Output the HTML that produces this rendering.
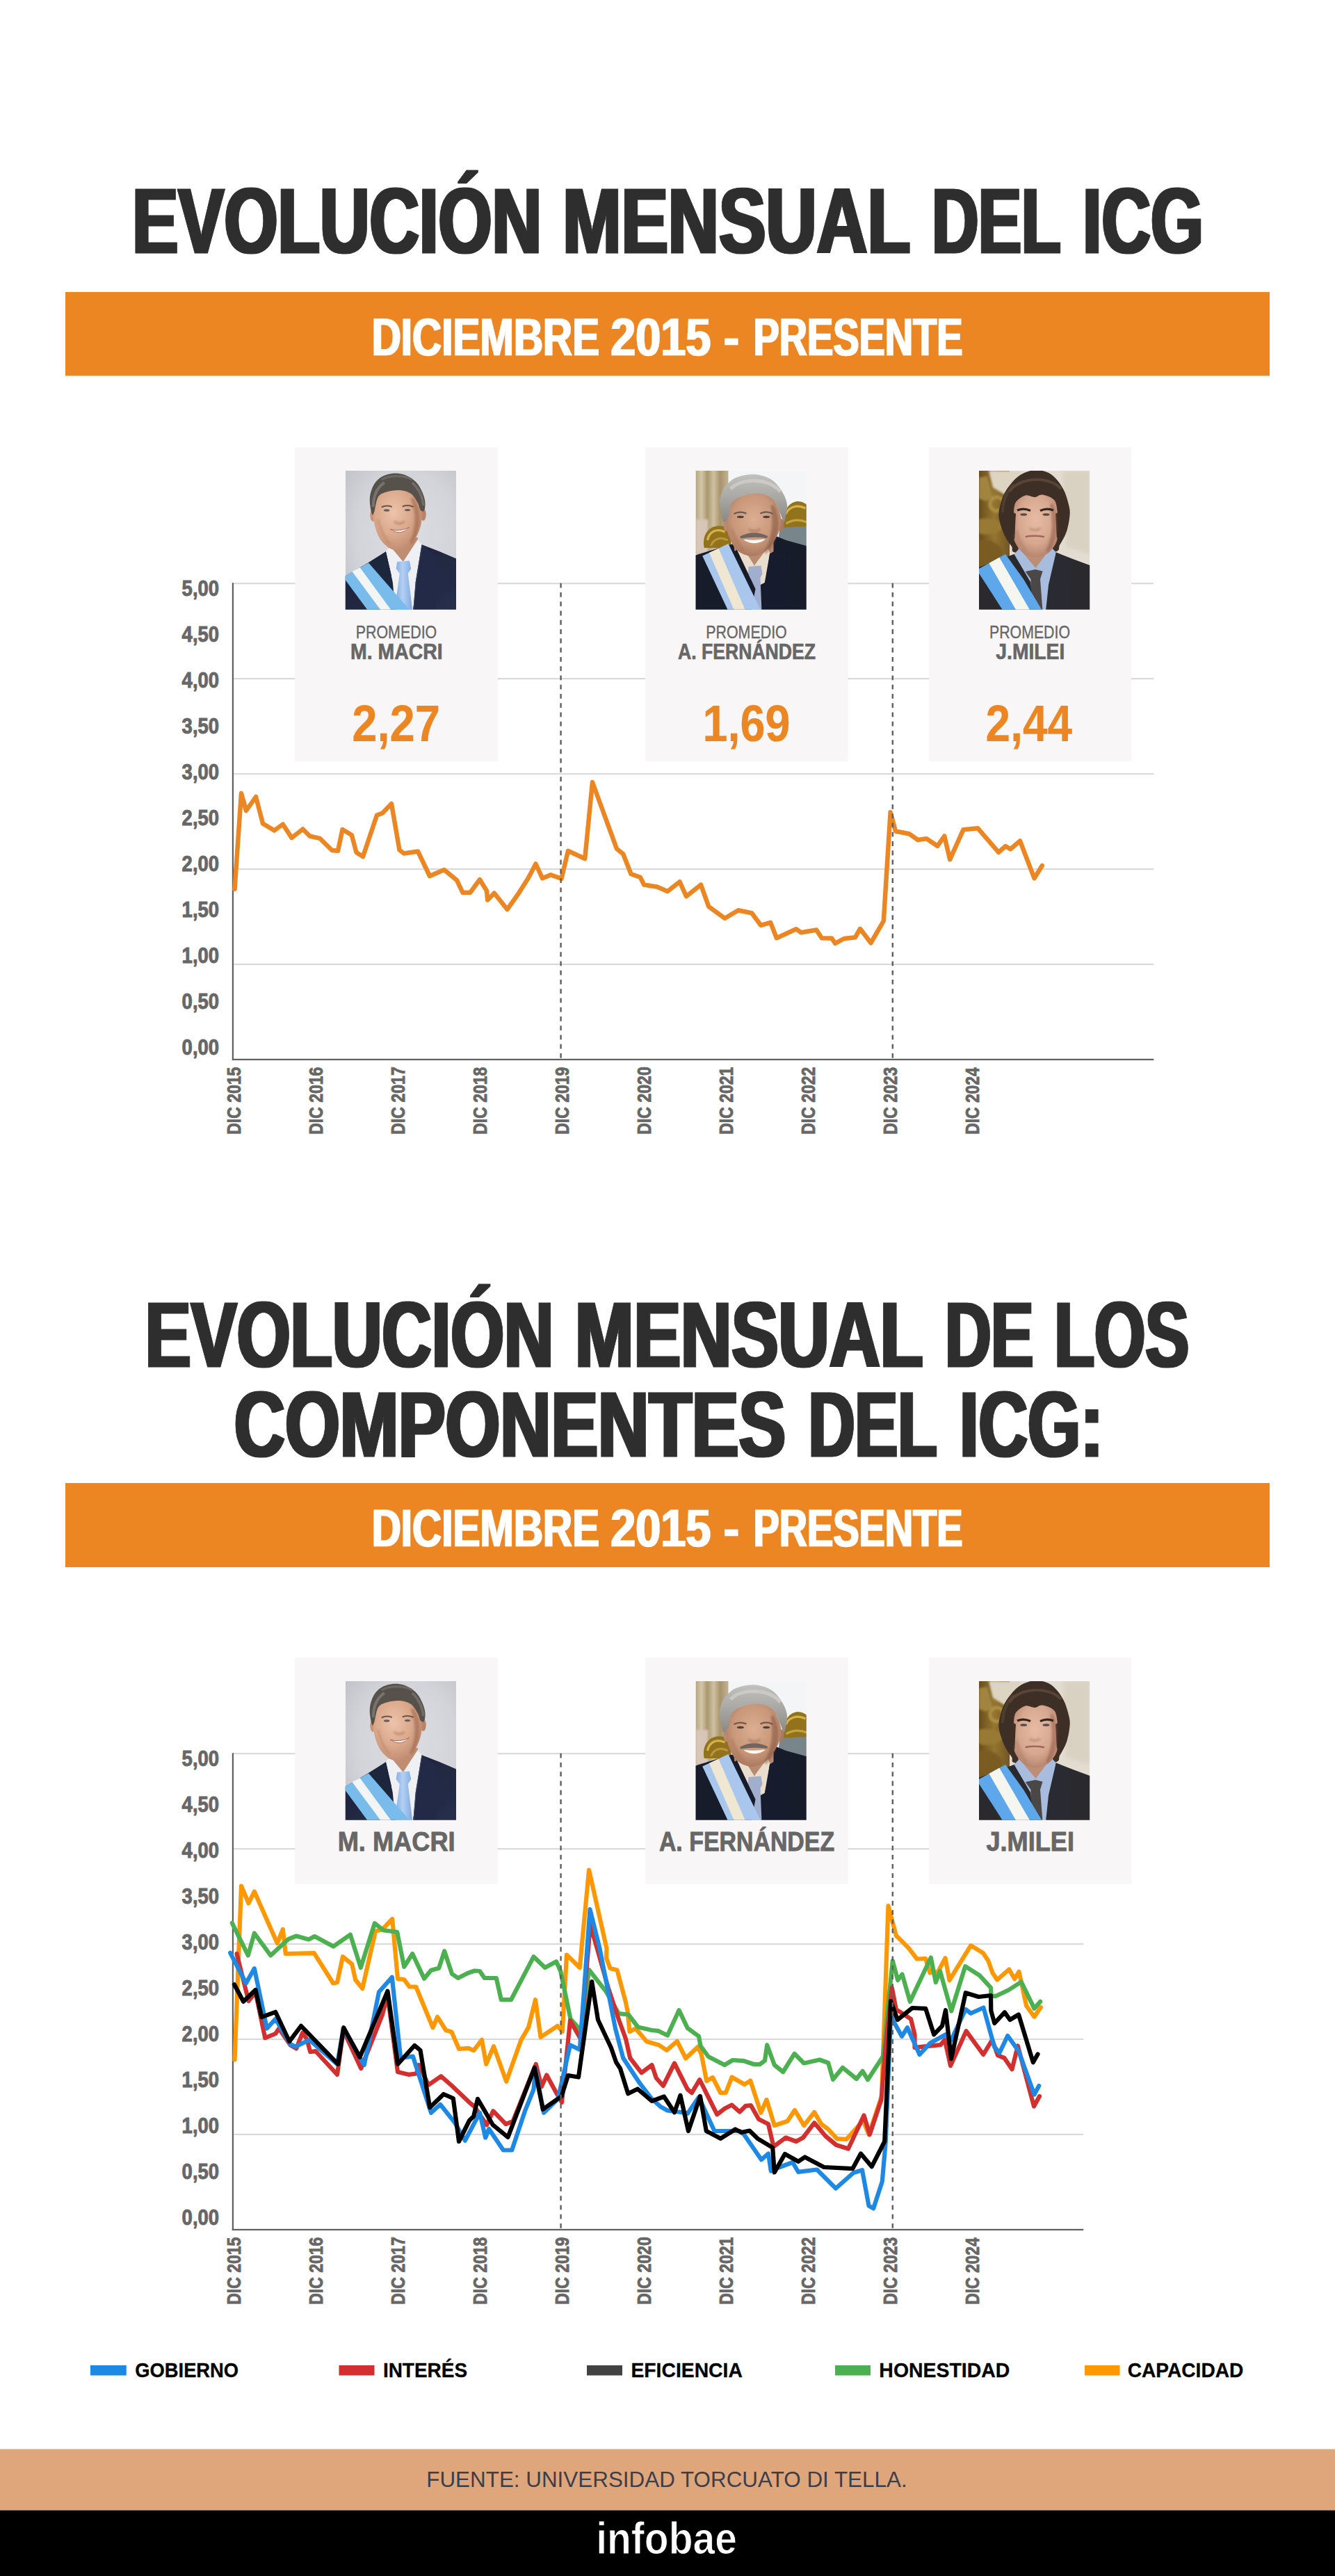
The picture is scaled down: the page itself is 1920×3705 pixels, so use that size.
<!DOCTYPE html>
<html lang="es"><head><meta charset="utf-8"><title>Evolución mensual del ICG</title>
<style>html,body{margin:0;padding:0;background:#fff}body{width:1920px;height:3705px;overflow:hidden;font-family:"Liberation Sans",sans-serif}svg{display:block}text{white-space:pre}</style>
</head><body>
<svg width="1920" height="3705" viewBox="0 0 1920 3705" font-family="'Liberation Sans', sans-serif">
<defs>
<clipPath id="pc"><rect x="0" y="0" width="159.25" height="199.75"/></clipPath>
<filter id="b0" x="-20%" y="-20%" width="140%" height="140%"><feGaussianBlur stdDeviation="0.6"/></filter>
<filter id="b1" x="-30%" y="-30%" width="160%" height="160%"><feGaussianBlur stdDeviation="1.5"/></filter>
<filter id="b2" x="-40%" y="-40%" width="180%" height="180%"><feGaussianBlur stdDeviation="3"/></filter>
<filter id="b4" x="-50%" y="-50%" width="200%" height="200%"><feGaussianBlur stdDeviation="6"/></filter>
<radialGradient id="g1bg" cx="0.55" cy="0.45" r="0.75"><stop offset="0" stop-color="#dddee2"/><stop offset="0.6" stop-color="#d3d4d9"/><stop offset="1" stop-color="#bfc1c8"/></radialGradient>
<radialGradient id="g1face" cx="0.42" cy="0.4" r="0.7"><stop offset="0" stop-color="#ecc3aa"/><stop offset="0.5" stop-color="#dcaa8d"/><stop offset="1" stop-color="#b9846a"/></radialGradient>
<linearGradient id="g1tie" x1="0" y1="0" x2="1" y2="0"><stop offset="0" stop-color="#7da7de"/><stop offset="0.45" stop-color="#b3d0f3"/><stop offset="1" stop-color="#7fa9e0"/></linearGradient>
<linearGradient id="g1suit" x1="0" y1="0" x2="1" y2="1"><stop offset="0" stop-color="#1b2238"/><stop offset="1" stop-color="#262f4b"/></linearGradient>
<linearGradient id="g2cur" x1="0" y1="0" x2="1" y2="0"><stop offset="0" stop-color="#b7a580"/><stop offset="0.18" stop-color="#d3c6a8"/><stop offset="0.36" stop-color="#ab976f"/><stop offset="0.55" stop-color="#cfc1a1"/><stop offset="0.75" stop-color="#a8946c"/><stop offset="1" stop-color="#c2b390"/></linearGradient>
<radialGradient id="g2face" cx="0.5" cy="0.42" r="0.68"><stop offset="0" stop-color="#dcae92"/><stop offset="0.55" stop-color="#c99779"/><stop offset="1" stop-color="#9b6b54"/></radialGradient>
<linearGradient id="g2hair" x1="0" y1="0" x2="0" y2="1"><stop offset="0" stop-color="#c2c1be"/><stop offset="0.5" stop-color="#a9a7a3"/><stop offset="1" stop-color="#8c8984"/></linearGradient>
<radialGradient id="g3face" cx="0.5" cy="0.42" r="0.68"><stop offset="0" stop-color="#e6bba5"/><stop offset="0.55" stop-color="#d7a88f"/><stop offset="1" stop-color="#a87560"/></radialGradient>
<linearGradient id="g3gold" x1="0" y1="0" x2="1" y2="0"><stop offset="0" stop-color="#6a4e1c"/><stop offset="0.5" stop-color="#947530"/><stop offset="1" stop-color="#735624"/></linearGradient>

<g id="ph1" clip-path="url(#pc)">
 <rect width="159.25" height="199.75" fill="url(#g1bg)"/>
 <g filter="url(#b0)">
  <path d="M-2.0 152.5 L30.0 134.0 L58.2 116.3 L84.0 150.0 L109.8 106.3 L135.0 116.0 L162.0 127.5 L162.0 202.0 L-2.0 202.0Z" fill="url(#g1suit)"/>
  <path d="M60 100 L104 96 L105 112 L84 140 L62 118Z" fill="#c08d72"/>
  <path d="M58.2 116.3 L64 108 L83 131 L104 99 L109.8 106.3 L104 150 L97 202 L70 202 L66 150Z" fill="#eef0f4"/>
  <path d="M74.4 131 L92 129.5 L94.5 141 L90 148 L96.7 202 L70.6 202 L78 148 L73 141Z" fill="url(#g1tie)"/>
  <path d="M58.2 116.3 L68 160 L72 202 L40 202 L30 140Z" fill="#1d253c"/>
  <path d="M109.8 106.3 L101 160 L97.5 202 L130 202 L132 125Z" fill="#232c47"/>
  <path d="M110 108 L101.5 160 L98 202" fill="none" stroke="#39435f" stroke-width="1.2"/>
  <ellipse cx="39.5" cy="64" rx="4" ry="9" fill="#c99579"/>
  <ellipse cx="112" cy="63" rx="4" ry="9" fill="#b98467"/>
  <path d="M40.5 52.0 C41.7 46.6 43.4 38.5 47.0 34.0 C50.6 29.5 56.5 26.7 62.0 25.0 C67.5 23.3 74.2 23.0 80.0 24.0 C85.8 25.0 92.5 27.0 97.0 31.0 C101.5 35.0 104.8 42.1 107.0 48.0 C109.2 53.9 110.0 60.5 110.0 66.5 C110.0 72.5 108.9 77.9 106.7 83.9 C104.5 89.9 100.9 97.8 96.7 102.6 C92.5 107.4 86.8 111.3 81.8 113.0 C76.8 114.7 71.7 114.7 66.9 113.0 C62.1 111.3 56.9 107.0 53.2 102.6 C49.5 98.2 46.7 92.4 44.5 86.4 C42.3 80.4 40.7 72.2 40.0 66.5 C39.3 60.8 39.3 57.4 40.5 52.0Z" fill="url(#g1face)"/>
  <path d="M38.3 62.8 C37.2 60.7 35.6 51.6 35.2 46.6 C34.8 41.6 35.0 37.4 36.0 33.0 C37.0 28.6 38.8 23.7 41.0 20.0 C43.2 16.3 46.3 13.0 49.5 10.6 C52.7 8.2 56.3 6.6 60.0 5.5 C63.7 4.4 67.9 3.8 71.9 3.8 C75.9 3.8 80.3 4.4 84.0 5.5 C87.7 6.6 91.1 8.5 94.3 10.6 C97.5 12.7 100.5 15.1 103.0 18.0 C105.5 20.9 107.5 24.5 109.2 28.0 C111.0 31.5 112.6 35.5 113.5 39.0 C114.4 42.5 114.9 45.9 114.8 49.1 C114.7 52.3 114.1 56.8 112.9 58.0 C111.8 59.2 109.4 58.5 107.9 56.6 C106.5 54.7 106.5 50.5 104.2 46.6 C101.9 42.7 98.7 36.1 94.3 33.0 C89.9 29.9 83.9 28.4 78.1 28.0 C72.3 27.6 64.6 28.9 59.4 30.5 C54.2 32.1 50.0 33.1 47.0 37.9 C44.0 42.6 43.0 54.9 41.5 59.0 C40.0 63.1 39.3 64.9 38.3 62.8Z" fill="#56514b"/>
  <path d="M40 52 C40 36 46 24 56 17" fill="none" stroke="#85817b" stroke-width="4" opacity="0.7"/>
  <path d="M112 50 C111 36 104 24 96 17" fill="none" stroke="#7d7973" stroke-width="3.5" opacity="0.7"/>
  <path d="M52 13 C64 6 84 6 96 13" fill="none" stroke="#6d6861" stroke-width="3"/>
 </g>
 <g filter="url(#b1)" opacity="0.55">
  <path d="M96 40 C108 56 108 84 94 104 C104 84 104 60 96 40Z" fill="#9a6448" stroke="#9a6448" stroke-width="4"/>
  <path d="M47 70 Q52 92 64 106" fill="none" stroke="#b98368" stroke-width="3"/>
  <path d="M70 73 Q77 79 85 73" fill="none" stroke="#a8705a" stroke-width="3"/>
 </g>
 <g filter="url(#b0)">
  <path d="M52 52.5 Q59 49 67 52" stroke="#6e5647" stroke-width="2" fill="none"/>
  <path d="M82 51.5 Q90 48.5 98 52" stroke="#6e5647" stroke-width="2" fill="none"/>
  <ellipse cx="59.4" cy="57" rx="4.2" ry="1.7" fill="#5f5d66"/>
  <ellipse cx="89.3" cy="56.6" rx="4.2" ry="1.7" fill="#5f5d66"/>
  <path d="M64.4 84 Q78 88.5 91.8 81.4 Q80 95 64.4 84Z" fill="#fdf8f5" stroke="#a9695a" stroke-width="1"/>
  <path d="M0 151 L33.3 132.4 L66.9 171 L94.3 202 L33 202 L0 157.3Z" fill="#79bcec"/>
  <path d="M9.7 144.9 L20.9 139.3 L66.9 202 L52 202Z" fill="#f3f5f4"/>
 </g>
</g>

<g id="ph2" clip-path="url(#pc)">
 <rect width="159.25" height="199.75" fill="#f3f5f7"/>
 <rect x="0" y="0" width="47" height="120" fill="url(#g2cur)"/>
 <rect x="0" y="70" width="18" height="50" fill="#d7c5b6" filter="url(#b1)"/>
 <g filter="url(#b0)">
  <path d="M126 86 C124 60 132 46 146 44 C154 44 160 48 162 52 L162 88Z" fill="#93721f"/>
  <path d="M130 62 C134 52 146 48 158 54" stroke="#d4b24e" stroke-width="3.2" fill="none"/>
  <path d="M130 76 C140 70 150 70 160 74" stroke="#c4a23e" stroke-width="3.2" fill="none"/>
  <path d="M121 82 L162 80 L162 112 L118 108Z" fill="#78858b"/>
  <path d="M12.2 111 C8 90 22 76 40 80 C50 84 52 98 50.7 111Z" fill="#93721f"/>
  <path d="M17 100 C19 88 30 82 42 88" stroke="#d4b24e" stroke-width="3.2" fill="none"/>
  <path d="M22 108 C26 98 36 94 46 100" stroke="#b8963a" stroke-width="3" fill="none"/>
  <path d="M-2 122 L50.7 106 L115.4 94 L130 100 L162 108.8 L162 202 L-2 202Z" fill="#161a2b"/>
  <path d="M54 100 L112 96 L112 116 L84 136 L56 116Z" fill="#b88a70"/>
  <path d="M59.4 113.8 L66 107 L84.3 136.2 L104 110 L106.7 118.8 L101 160 L86 168 L70 160Z" fill="#e9decb"/>
  <path d="M76 138 L94 136.5 L96 148 L93 154 L95 202 L78 202 L79 154 L75.5 148Z" fill="#a2aece"/>
  <path d="M59.4 113.8 L86 170 L80 202 L44 202 L36 128Z" fill="#161a2b"/>
  <path d="M106.7 118.8 L98 168 L95 202 L130 202 L132 120Z" fill="#171b2d"/>
  <ellipse cx="44" cy="78" rx="4" ry="9" fill="#b98a70"/>
  <ellipse cx="123" cy="78" rx="4" ry="9" fill="#a87a62"/>
  <path d="M45.0 62.0 C46.4 56.7 48.2 48.7 52.0 44.0 C55.8 39.3 61.7 36.2 68.0 34.0 C74.3 31.8 83.0 30.2 90.0 31.0 C97.0 31.8 105.0 34.5 110.0 39.0 C115.0 43.5 117.8 51.8 120.0 58.0 C122.2 64.2 123.9 69.7 122.9 76.5 C121.9 83.3 118.2 92.3 114.2 98.9 C110.2 105.5 104.6 112.3 99.2 116.3 C93.8 120.3 88.0 123.0 81.8 123.0 C75.6 123.0 67.3 120.3 61.9 116.3 C56.5 112.3 52.6 105.6 49.5 98.9 C46.4 92.2 44.2 82.2 43.5 76.0 C42.8 69.8 43.6 67.3 45.0 62.0Z" fill="url(#g2face)"/>
  <path d="M39.5 73.0 C37.4 70.1 35.3 54.9 34.6 49.1 C33.9 43.3 34.6 41.9 35.5 38.0 C36.4 34.1 37.9 29.5 40.0 26.0 C42.1 22.5 45.2 19.6 48.0 17.0 C50.8 14.4 53.3 12.3 57.0 10.6 C60.7 8.8 65.5 7.4 70.0 6.5 C74.5 5.6 79.8 5.0 84.3 5.2 C88.8 5.4 92.8 6.2 97.0 7.5 C101.2 8.8 105.5 10.6 109.2 13.1 C112.9 15.6 116.1 19.0 119.0 22.5 C121.9 26.0 124.7 30.6 126.6 34.2 C128.5 37.8 129.7 40.9 130.5 44.0 C131.3 47.1 131.7 49.5 131.6 52.8 C131.5 56.1 130.8 60.5 130.0 64.0 C129.2 67.5 128.4 74.4 127.0 74.0 C125.6 73.6 124.1 67.0 121.6 61.6 C119.0 56.2 116.7 46.5 111.7 41.7 C106.7 36.9 99.3 33.8 91.8 33.0 C84.3 32.2 73.5 34.4 66.9 36.7 C60.3 39.0 55.3 41.6 52.0 46.6 C48.7 51.6 49.1 62.1 47.0 66.5 C44.9 70.9 41.6 75.9 39.5 73.0Z" fill="url(#g2hair)"/>
  <path d="M50 26 C66 10 104 10 122 30" fill="none" stroke="#cfcecb" stroke-width="5" opacity="0.8"/>
 </g>
 <g filter="url(#b1)" opacity="0.5">
  <path d="M110 50 C122 70 118 100 100 118 C112 98 114 72 110 50Z" fill="#7d4f3a" stroke="#7d4f3a" stroke-width="4"/>
  <path d="M52 84 Q58 104 70 116" fill="none" stroke="#a87458" stroke-width="3"/>
  <path d="M76 84 Q84 90 93 84" fill="none" stroke="#94604a" stroke-width="3"/>
 </g>
 <g filter="url(#b0)">
  <path d="M55 62 Q64 57.5 73 61.5" stroke="#6b5a50" stroke-width="2.4" fill="none"/>
  <path d="M93 61.5 Q102 57 111 62" stroke="#6b5a50" stroke-width="2.4" fill="none"/>
  <ellipse cx="64.4" cy="66.5" rx="5" ry="1.7" fill="#4f3d35"/>
  <ellipse cx="101.7" cy="66.5" rx="5" ry="1.7" fill="#4f3d35"/>
  <path d="M64.4 96 Q84 86 103 95.5 Q84 92.5 64.4 96Z" fill="#71665f" stroke="#71665f" stroke-width="3.2"/>
  <path d="M70 99.5 Q85 108 99 99 Q85 101.5 70 99.5Z" fill="#fdfaf6" stroke="#fdfaf6" stroke-width="1.4"/>
  <path d="M9.7 122.5 L47 105.1 L94.3 202 L47 202Z" fill="#a9c7ed"/>
  <path d="M19.5 118 L33 111.7 L72 202 L56 202Z" fill="#efe7d2"/>
 </g>
</g>

<g id="ph3" clip-path="url(#pc)">
 <rect width="159.25" height="199.75" fill="#e3ddd1"/>
 <path d="M120 0 L160 0 L160 120 L125 110Z" fill="#d9d1c2" filter="url(#b2)"/>
 <rect x="0" y="0" width="44" height="142" fill="url(#g3gold)"/>
 <g filter="url(#b1)">
  <path d="M14 0 L60 0 L60 28 L36 34 L20 24Z" fill="#ddd4c2"/>
  <path d="M0 10 L12 8 L20 38 L10 44 L0 40Z" fill="#a08440"/>
  <circle cx="26" cy="48" r="10" fill="none" stroke="#ad8f45" stroke-width="5"/>
  <path d="M0 70 C14 66 30 70 34 80 C30 92 12 94 0 90Z" fill="#987a34"/>
  <path d="M0 100 C16 98 30 104 34 116 L34 140 L0 140Z" fill="#7a5b22"/>
 </g>
 <g filter="url(#b0)">
  <path d="M-2 139.5 L50.5 120 L110.8 117.5 L135 127 L162 137 L162 202 L-2 202Z" fill="#2a2a2d"/>
  <path d="M54.0 118.0 C43.8 116.6 49.8 113.2 46.8 108.8 C43.8 104.4 39.0 98.5 36.0 91.4 C33.0 84.4 29.3 73.7 28.5 66.5 C27.7 59.3 29.4 54.1 31.0 48.0 C32.6 41.9 34.3 36.2 38.0 30.0 C41.7 23.8 48.0 15.7 53.0 11.0 C58.0 6.3 62.8 4.0 68.0 2.0 C73.2 0.0 78.7 -1.2 84.0 -1.0 C89.3 -0.8 95.3 0.7 100.0 3.0 C104.7 5.3 108.3 8.8 112.0 13.0 C115.7 17.2 119.3 22.7 122.0 28.0 C124.7 33.3 126.5 39.4 128.0 45.0 C129.4 50.6 131.0 54.7 130.7 61.6 C130.4 68.5 128.7 79.0 126.3 86.4 C123.9 93.9 119.5 101.2 116.4 106.3 C113.4 111.4 118.4 115.0 108.0 117.0 C97.6 119.0 64.2 119.4 54.0 118.0Z" fill="#3d2f26"/>
  <path d="M56 108 L106 106 L106 122 L82 144 L58 124Z" fill="#be8d76"/>
  <path d="M50.5 120 L58 112 L81.6 140 L104 110 L110.8 117.5 L104 160 L97 202 L70 202 L62 160Z" fill="#a8bcde"/>
  <path d="M66.7 145 L81 142 L91.5 144.5 L88 156 L91.5 202 L74 202 L74.5 156Z" fill="#4b4647"/>
  <path d="M50.5 120 L74 160 L78 202 L40 202 L34 140Z" fill="#2a2a2d"/>
  <path d="M110.8 117.5 L100 164 L96 202 L130 202 L132 128Z" fill="#2c2c30"/>
  <path d="M49.2 61.6 C49.6 54.8 48.8 48.9 51.7 44.1 C54.6 39.3 60.1 35.0 66.7 33.0 C73.3 31.0 84.5 30.6 91.5 32.0 C98.5 33.5 105.2 36.8 108.9 41.7 C112.6 46.6 113.2 54.4 113.9 61.6 C114.6 68.8 113.4 78.2 113.0 85.0 C112.6 91.8 113.7 97.0 111.4 102.6 C109.1 108.2 104.0 115.2 99.0 118.8 C94.0 122.4 87.4 124.2 81.6 124.2 C75.8 124.2 69.2 122.4 64.2 118.8 C59.2 115.2 54.2 108.2 51.7 102.6 C49.2 97.0 49.9 91.8 49.5 85.0 C49.1 78.2 48.8 68.4 49.2 61.6Z" fill="url(#g3face)"/>
  <path d="M49.2 64.0 C48.1 64.7 45.5 55.0 46.0 50.0 C46.5 45.0 48.7 38.3 52.0 34.0 C55.3 29.7 59.7 26.0 66.0 24.0 C72.3 22.0 82.7 20.7 90.0 22.0 C97.3 23.3 105.5 27.3 110.0 32.0 C114.5 36.7 116.3 44.7 117.0 50.0 C117.7 55.3 115.2 65.2 113.9 64.0 C112.6 62.8 112.6 47.9 108.9 43.0 C105.2 38.1 96.3 35.3 91.5 34.5 C86.7 33.7 84.1 37.8 80.0 38.0 C75.9 38.2 71.3 34.2 66.7 35.5 C62.1 36.8 55.4 41.2 52.5 46.0 C49.6 50.8 50.3 63.3 49.2 64.0Z" fill="#3d2f26"/>
  <path d="M49.5 60 C47 76 48 90 51 100 C52 88 52 74 53 62Z" fill="#3d2f26"/>
  <path d="M113.5 60 C116 76 115 90 112 98 C111 86 111 74 110 62Z" fill="#3d2f26"/>
  <path d="M44 30 C56 10 100 6 118 26" fill="none" stroke="#6a5340" stroke-width="4" opacity="0.6"/>
  <path d="M34 60 C34 44 40 30 50 20" fill="none" stroke="#5b4635" stroke-width="4" opacity="0.6"/>
 </g>
 <g filter="url(#b1)" opacity="0.5">
  <path d="M104 48 C114 68 112 98 98 116 C108 96 108 70 104 48Z" fill="#8d5a46" stroke="#8d5a46" stroke-width="4"/>
  <path d="M54 86 Q58 104 68 116" fill="none" stroke="#b07e68" stroke-width="3"/>
  <path d="M73 83 Q80 88 88 83" fill="none" stroke="#a06c58" stroke-width="3"/>
 </g>
 <g filter="url(#b0)">
  <path d="M55 57 Q64 53 74 57.5" stroke="#35271f" stroke-width="3.2" fill="none"/>
  <path d="M88 57.5 Q98 53 107 57" stroke="#35271f" stroke-width="3.2" fill="none"/>
  <ellipse cx="64.2" cy="63" rx="5" ry="1.8" fill="#55494a"/>
  <ellipse cx="96.5" cy="63" rx="5" ry="1.8" fill="#55494a"/>
  <path d="M66.7 95 Q80 92.5 94 95.2" stroke="#a1665c" stroke-width="2.4" fill="none"/>
  <path d="M0 141.1 L38 120 L64 156 L91.5 202 L35 202 L0 147.4Z" fill="#5fa7eb"/>
  <path d="M0 141.1 L0 147.4 L20 176 L35 202 L36 202Z" fill="#5fa7eb"/>
  <path d="M14.4 133 L29.3 124.8 L74.1 202 L54.2 202Z" fill="#f6f6f1"/>
 </g>
</g>
</defs>
<defs><filter id="hd1" x="-3%" y="-10%" width="106%" height="120%"><feMorphology operator="dilate" radius="1 0"/></filter><filter id="hd2" x="-3%" y="-10%" width="106%" height="120%"><feMorphology operator="dilate" radius="2 0"/></filter></defs>
<rect width="1920" height="3705" fill="#ffffff"/>
<rect x="94" y="420" width="1732" height="120.5" fill="#ec8623"/>
<rect x="94" y="2133" width="1732" height="121" fill="#ec8623"/>
<rect x="335" y="838.10" width="1324.25" height="2.2" fill="#dadada"/>
<rect x="335" y="975.03" width="1324.25" height="2.2" fill="#dadada"/>
<rect x="335" y="1111.96" width="1324.25" height="2.2" fill="#dadada"/>
<rect x="335" y="1248.89" width="1324.25" height="2.2" fill="#dadada"/>
<rect x="335" y="1385.82" width="1324.25" height="2.2" fill="#dadada"/>
<rect x="335" y="2521.10" width="1223.25" height="2.2" fill="#dadada"/>
<rect x="335" y="2658.03" width="1223.25" height="2.2" fill="#dadada"/>
<rect x="335" y="2794.96" width="1223.25" height="2.2" fill="#dadada"/>
<rect x="335" y="2931.89" width="1223.25" height="2.2" fill="#dadada"/>
<rect x="335" y="3068.82" width="1223.25" height="2.2" fill="#dadada"/>
<rect x="424.25" y="643.25" width="291.50" height="451.75" fill="#f8f6f6"/>
<rect x="424.25" y="2384" width="291.50" height="325.5" fill="#f8f6f6"/>
<rect x="928.00" y="643.25" width="291.50" height="451.75" fill="#f8f6f6"/>
<rect x="928.00" y="2384" width="291.50" height="325.5" fill="#f8f6f6"/>
<rect x="1336.00" y="643.25" width="291.00" height="451.75" fill="#f8f6f6"/>
<rect x="1336.00" y="2384" width="291.00" height="325.5" fill="#f8f6f6"/>
<use href="#ph1" x="496.75" y="677.00"/>
<use href="#ph1" x="496.75" y="2418.00"/>
<use href="#ph2" x="1000.50" y="677.00"/>
<use href="#ph2" x="1000.50" y="2418.00"/>
<use href="#ph3" x="1408.00" y="677.00"/>
<use href="#ph3" x="1408.00" y="2418.00"/>
<rect x="333.8" y="838.30" width="2.2" height="686.70" fill="#5f5f5f"/>
<rect x="333.8" y="1522.80" width="1325.45" height="2.2" fill="#5f5f5f"/>
<rect x="333.8" y="2521.30" width="2.2" height="686.70" fill="#5f5f5f"/>
<rect x="333.8" y="3205.80" width="1224.45" height="2.2" fill="#5f5f5f"/>
<polyline points="337.5,1278.8 347.0,1141.0 354.0,1166.0 368.0,1146.0 378.0,1184.5 394.5,1194.5 406.8,1185.5 419.5,1205.0 435.5,1192.5 445.5,1202.5 460.0,1205.8 477.5,1223.0 486.0,1223.8 492.5,1193.0 505.8,1201.0 512.5,1226.0 522.0,1232.0 542.0,1172.5 550.0,1169.5 563.0,1156.0 574.5,1222.5 581.0,1227.5 601.0,1224.5 618.0,1260.0 638.8,1251.0 657.0,1266.0 665.5,1283.8 676.2,1283.8 690.0,1265.0 700.0,1281.2 701.2,1294.5 710.8,1284.5 729.5,1308.0 745.0,1286.2 760.0,1262.5 770.5,1242.5 780.0,1263.2 792.0,1258.2 807.5,1263.8 817.0,1223.8 841.2,1235.0 852.0,1125.0 887.0,1220.8 896.2,1228.2 907.5,1257.0 920.8,1261.8 926.2,1272.5 945.0,1275.5 960.0,1282.0 977.5,1268.2 987.0,1289.2 1008.0,1272.5 1019.2,1303.8 1042.5,1320.8 1061.8,1309.2 1081.2,1313.2 1094.2,1330.8 1108.2,1326.8 1116.8,1349.2 1145.0,1336.2 1151.8,1341.2 1174.2,1337.5 1181.8,1349.2 1196.2,1349.5 1201.2,1356.8 1213.8,1350.0 1230.0,1348.2 1237.0,1335.8 1252.5,1356.2 1270.8,1324.5 1280.6,1168.2 1288.0,1195.5 1307.5,1199.2 1320.0,1208.0 1332.5,1206.2 1348.2,1216.8 1358.2,1202.5 1366.2,1236.2 1385.5,1193.2 1406.2,1191.2 1436.2,1225.8 1446.2,1217.0 1453.2,1221.2 1467.0,1209.5 1487.5,1263.2 1498.8,1245.0" fill="none" stroke="#ec8623" stroke-width="6.5" stroke-linejoin="round" stroke-linecap="round"/>
<polyline points="337.5,2962.5 347.0,2712.5 357.5,2737.5 365.8,2720.5 398.8,2795.0 406.8,2775.0 410.8,2810.0 451.8,2809.2 479.2,2852.5 485.0,2851.2 493.0,2814.2 506.2,2825.0 511.2,2847.5 521.2,2860.0 540.0,2777.5 550.0,2775.0 564.2,2760.0 572.0,2846.2 581.2,2847.0 588.8,2857.5 598.2,2857.5 622.5,2916.2 629.2,2900.8 641.2,2920.0 649.5,2922.5 660.0,2946.8 673.8,2945.8 681.2,2949.2 693.0,2933.8 699.2,2968.8 710.0,2943.2 728.2,2993.8 749.5,2933.8 760.0,2916.2 770.0,2876.2 777.5,2930.0 801.8,2913.8 808.8,2922.0 815.0,2811.5 833.8,2830.0 847.1,2689.5 872.5,2802.5 872.0,2816.2 877.5,2831.0 887.5,2833.5 900.0,2880.0 902.5,2892.5 905.5,2922.0 914.2,2917.5 930.0,2936.2 947.5,2941.2 958.8,2948.8 973.8,2935.8 986.2,2960.5 1003.8,2943.8 1008.8,2955.0 1016.2,2993.0 1025.0,2988.0 1036.2,3010.0 1043.8,3010.0 1052.5,2987.5 1070.8,2998.0 1079.2,2992.5 1094.2,3038.8 1102.5,3020.0 1113.8,3057.0 1132.5,3050.8 1143.0,3035.0 1156.2,3057.0 1171.2,3038.0 1181.2,3055.0 1191.2,3062.5 1203.8,3076.2 1217.5,3076.8 1241.5,3050.0 1249.5,3070.0 1268.0,3015.0 1277.5,2741.2 1288.8,2783.8 1306.2,2801.2 1318.8,2817.5 1331.2,2817.0 1337.5,2837.5 1349.0,2836.0 1359.5,2816.2 1365.5,2848.2 1396.2,2798.2 1413.8,2808.8 1421.2,2820.0 1427.5,2837.5 1434.2,2847.5 1451.2,2832.5 1459.2,2846.2 1465.5,2835.8 1476.2,2885.0 1487.5,2900.8 1496.8,2887.0" fill="none" stroke="#ff9800" stroke-width="6.2" stroke-linejoin="round" stroke-linecap="round"/>
<polyline points="333.8,2765.8 356.8,2812.5 365.8,2780.5 389.2,2812.5 415.0,2788.8 426.2,2784.5 443.8,2789.5 452.5,2785.0 479.5,2799.5 503.8,2782.5 518.8,2830.0 538.8,2766.2 551.2,2776.2 571.2,2778.8 581.2,2828.8 593.2,2810.0 610.0,2845.8 620.0,2833.8 631.2,2830.8 639.2,2806.2 650.0,2839.0 658.8,2845.0 672.5,2838.0 682.5,2834.5 690.0,2835.0 696.8,2845.0 713.8,2845.0 720.8,2876.2 735.0,2876.2 767.5,2814.2 783.8,2830.0 800.0,2821.2 806.2,2835.0 820.5,2903.8 836.2,2921.2 847.0,2833.0 871.2,2863.8 890.0,2896.2 903.8,2897.5 917.5,2915.5 937.5,2920.0 946.2,2920.8 960.0,2927.5 976.5,2891.2 988.8,2917.0 1005.0,2928.8 1007.5,2942.5 1018.8,2958.0 1042.0,2970.0 1053.8,2963.0 1070.0,2964.2 1085.0,2969.2 1092.5,2969.2 1100.0,2963.8 1103.2,2941.2 1113.8,2970.0 1126.2,2980.0 1142.5,2953.8 1156.2,2967.5 1178.8,2962.5 1191.2,2967.0 1198.0,2990.8 1212.0,2973.8 1231.8,2990.0 1240.5,2978.8 1248.0,2991.2 1270.0,2957.5 1283.8,2820.0 1291.2,2848.0 1297.5,2839.5 1308.8,2878.8 1338.8,2815.5 1345.8,2851.2 1352.0,2835.0 1368.2,2892.5 1388.2,2828.2 1408.8,2841.2 1425.0,2858.8 1425.5,2870.8 1432.5,2870.8 1450.0,2862.5 1468.8,2850.5 1487.5,2888.8 1496.2,2878.8" fill="none" stroke="#4caf50" stroke-width="6.2" stroke-linejoin="round" stroke-linecap="round"/>
<polyline points="340.5,2810.0 357.5,2878.0 367.5,2865.0 381.2,2931.2 396.2,2925.0 401.2,2917.5 417.5,2941.2 426.2,2946.2 435.0,2923.8 441.2,2932.5 446.2,2951.2 453.8,2950.0 485.0,2983.8 493.8,2920.0 519.2,2975.0 550.0,2897.5 557.5,2870.0 572.0,2980.0 587.5,2983.8 598.8,2982.5 602.5,2970.0 616.2,2998.8 634.2,2986.2 650.0,3000.0 675.0,3023.8 682.5,3030.0 700.0,3056.2 709.2,3036.2 727.5,3055.0 737.5,3051.2 770.8,2968.8 778.8,3001.2 786.2,2984.5 800.0,3010.0 808.0,3023.8 820.0,2906.2 835.0,2932.5 849.0,2768.0 875.0,2860.0 890.0,2905.0 900.0,2932.5 906.2,2960.0 922.5,2981.2 937.5,2970.0 943.8,2988.8 953.8,3000.0 970.0,2967.5 988.8,3005.0 995.0,3010.0 1006.2,2991.2 1031.2,3041.2 1042.5,3032.5 1052.5,3027.5 1063.8,3037.5 1072.5,3028.8 1080.0,3028.2 1091.2,3048.0 1105.0,3055.0 1112.5,3087.5 1130.0,3074.5 1145.0,3080.0 1155.0,3074.5 1171.2,3053.2 1187.5,3072.5 1202.5,3085.0 1220.0,3090.5 1242.5,3042.5 1250.8,3070.0 1267.5,3020.0 1273.8,2940.0 1282.8,2858.8 1288.8,2890.0 1310.0,2903.8 1315.5,2926.2 1315.5,2945.0 1325.0,2943.8 1352.5,2941.2 1358.8,2933.8 1367.0,2971.2 1389.5,2921.2 1414.2,2955.0 1427.0,2933.8 1435.0,2956.2 1444.5,2960.0 1455.5,2976.2 1463.8,2942.5 1487.0,3029.5 1495.0,3015.0" fill="none" stroke="#d32f2f" stroke-width="6.2" stroke-linejoin="round" stroke-linecap="round"/>
<polyline points="331.2,2808.8 353.8,2852.5 365.8,2831.2 383.8,2917.5 396.2,2903.8 417.5,2940.0 425.0,2943.8 445.0,2933.8 485.0,2968.8 493.8,2917.5 523.8,2970.0 545.0,2865.0 563.8,2843.8 576.2,2960.0 593.8,2957.5 620.0,3038.8 633.2,3026.8 653.8,3052.5 668.8,3078.8 690.0,3038.8 698.2,3074.5 703.2,3062.0 723.8,3092.5 736.2,3092.5 755.0,3036.2 767.5,3005.0 770.0,2975.0 782.0,3038.8 802.5,3018.8 820.0,2941.2 833.8,2948.0 848.5,2746.2 862.5,2802.5 885.0,2917.5 896.2,2960.0 920.0,2996.2 937.5,3018.8 950.0,3030.0 960.0,3035.5 980.0,3038.0 988.8,3040.0 1005.0,3016.2 1027.5,3065.0 1063.8,3065.0 1070.0,3070.0 1095.0,3106.2 1105.0,3097.5 1108.8,3122.5 1120.0,3117.5 1140.0,3110.0 1148.0,3123.8 1175.0,3120.5 1202.0,3147.5 1227.5,3125.0 1240.0,3121.2 1249.5,3172.5 1256.2,3176.2 1268.8,3137.5 1273.8,3080.0 1281.5,2888.0 1283.8,2905.0 1297.0,2928.8 1305.0,2916.2 1322.5,2955.0 1337.5,2938.8 1360.0,2926.2 1367.5,2935.0 1388.8,2890.0 1396.2,2895.8 1414.5,2887.5 1430.0,2943.8 1437.5,2952.5 1449.2,2928.0 1465.0,2950.0 1487.5,3012.5 1494.2,3000.0" fill="none" stroke="#1e88e5" stroke-width="6.2" stroke-linejoin="round" stroke-linecap="round"/>
<polyline points="337.0,2854.2 350.0,2878.8 367.5,2862.0 376.2,2901.2 396.2,2893.8 416.2,2936.2 433.0,2913.8 486.2,2968.8 494.2,2916.2 517.5,2958.8 557.5,2863.8 572.0,2968.8 596.2,2942.0 604.5,2948.8 618.2,3031.2 638.0,3012.0 651.8,3018.0 660.0,3080.0 675.0,3050.0 681.2,3043.8 687.0,3018.8 708.8,3056.2 730.5,3073.8 768.8,2973.8 780.8,3033.8 807.5,3015.0 817.0,2985.0 832.0,2987.5 851.2,2850.0 860.0,2905.0 878.8,2945.0 886.2,2966.2 892.0,2975.0 903.2,3011.2 917.0,3004.5 937.5,3021.8 955.0,3015.5 970.0,3038.2 978.5,3013.8 990.0,3065.0 1007.0,3015.0 1015.8,3065.0 1036.2,3075.8 1057.5,3062.5 1066.2,3067.0 1078.0,3064.5 1090.0,3076.2 1111.2,3088.8 1113.8,3124.5 1128.8,3098.0 1148.0,3108.8 1157.5,3102.5 1185.0,3117.0 1226.2,3119.2 1238.0,3097.5 1253.8,3116.2 1272.2,3080.0 1281.2,2878.2 1290.8,2905.0 1312.0,2888.0 1331.2,2888.8 1343.2,2926.2 1355.0,2913.8 1360.0,2891.2 1368.0,2961.2 1388.8,2866.2 1407.5,2872.0 1425.0,2870.0 1425.3,2892.0 1430.3,2910.0 1445.0,2894.2 1452.5,2905.0 1465.0,2897.5 1485.8,2966.2 1492.5,2954.5" fill="none" stroke="#000000" stroke-width="6.2" stroke-linejoin="round" stroke-linecap="round"/>
<line x1="806.60" y1="838.80" x2="806.60" y2="1523.00" stroke="#5f5f5f" stroke-width="2.4" stroke-dasharray="6.8 6.46"/>
<line x1="1283.80" y1="838.80" x2="1283.80" y2="1523.00" stroke="#5f5f5f" stroke-width="2.4" stroke-dasharray="6.8 6.46"/>
<line x1="806.60" y1="2521.80" x2="806.60" y2="3206.00" stroke="#5f5f5f" stroke-width="2.4" stroke-dasharray="6.8 6.46"/>
<line x1="1283.80" y1="2521.80" x2="1283.80" y2="3206.00" stroke="#5f5f5f" stroke-width="2.4" stroke-dasharray="6.8 6.46"/>
<text transform="translate(261.62 857.15) scale(0.8810 1)" font-size="31.17" font-weight="bold" fill="#676767" stroke="#676767" stroke-width="0.90" stroke-linejoin="miter" stroke-miterlimit="2" vector-effect="non-scaling-stroke">5,00</text>
<text transform="translate(261.62 923.15) scale(0.8810 1)" font-size="31.17" font-weight="bold" fill="#676767" stroke="#676767" stroke-width="0.90" stroke-linejoin="miter" stroke-miterlimit="2" vector-effect="non-scaling-stroke">4,50</text>
<text transform="translate(261.62 989.15) scale(0.8810 1)" font-size="31.17" font-weight="bold" fill="#676767" stroke="#676767" stroke-width="0.90" stroke-linejoin="miter" stroke-miterlimit="2" vector-effect="non-scaling-stroke">4,00</text>
<text transform="translate(261.62 1055.15) scale(0.8810 1)" font-size="31.17" font-weight="bold" fill="#676767" stroke="#676767" stroke-width="0.90" stroke-linejoin="miter" stroke-miterlimit="2" vector-effect="non-scaling-stroke">3,50</text>
<text transform="translate(261.62 1121.15) scale(0.8810 1)" font-size="31.17" font-weight="bold" fill="#676767" stroke="#676767" stroke-width="0.90" stroke-linejoin="miter" stroke-miterlimit="2" vector-effect="non-scaling-stroke">3,00</text>
<text transform="translate(261.62 1187.15) scale(0.8810 1)" font-size="31.17" font-weight="bold" fill="#676767" stroke="#676767" stroke-width="0.90" stroke-linejoin="miter" stroke-miterlimit="2" vector-effect="non-scaling-stroke">2,50</text>
<text transform="translate(261.62 1253.15) scale(0.8810 1)" font-size="31.17" font-weight="bold" fill="#676767" stroke="#676767" stroke-width="0.90" stroke-linejoin="miter" stroke-miterlimit="2" vector-effect="non-scaling-stroke">2,00</text>
<text transform="translate(261.62 1319.15) scale(0.8810 1)" font-size="31.17" font-weight="bold" fill="#676767" stroke="#676767" stroke-width="0.90" stroke-linejoin="miter" stroke-miterlimit="2" vector-effect="non-scaling-stroke">1,50</text>
<text transform="translate(261.62 1385.15) scale(0.8810 1)" font-size="31.17" font-weight="bold" fill="#676767" stroke="#676767" stroke-width="0.90" stroke-linejoin="miter" stroke-miterlimit="2" vector-effect="non-scaling-stroke">1,00</text>
<text transform="translate(261.62 1451.15) scale(0.8810 1)" font-size="31.17" font-weight="bold" fill="#676767" stroke="#676767" stroke-width="0.90" stroke-linejoin="miter" stroke-miterlimit="2" vector-effect="non-scaling-stroke">0,50</text>
<text transform="translate(261.62 1517.15) scale(0.8810 1)" font-size="31.17" font-weight="bold" fill="#676767" stroke="#676767" stroke-width="0.90" stroke-linejoin="miter" stroke-miterlimit="2" vector-effect="non-scaling-stroke">0,00</text>
<text transform="translate(345.80 1631.74) rotate(-90) scale(0.8573 1)" font-size="26.84" font-weight="bold" fill="#676767" stroke="#676767" stroke-width="0.80" stroke-linejoin="miter" stroke-miterlimit="2" vector-effect="non-scaling-stroke">DIC 2015</text>
<text transform="translate(463.78 1631.74) rotate(-90) scale(0.8573 1)" font-size="26.84" font-weight="bold" fill="#676767" stroke="#676767" stroke-width="0.80" stroke-linejoin="miter" stroke-miterlimit="2" vector-effect="non-scaling-stroke">DIC 2016</text>
<text transform="translate(581.76 1631.74) rotate(-90) scale(0.8606 1)" font-size="26.84" font-weight="bold" fill="#676767" stroke="#676767" stroke-width="0.80" stroke-linejoin="miter" stroke-miterlimit="2" vector-effect="non-scaling-stroke">DIC 2017</text>
<text transform="translate(699.74 1631.74) rotate(-90) scale(0.8573 1)" font-size="26.84" font-weight="bold" fill="#676767" stroke="#676767" stroke-width="0.80" stroke-linejoin="miter" stroke-miterlimit="2" vector-effect="non-scaling-stroke">DIC 2018</text>
<text transform="translate(817.72 1631.74) rotate(-90) scale(0.8573 1)" font-size="26.84" font-weight="bold" fill="#676767" stroke="#676767" stroke-width="0.80" stroke-linejoin="miter" stroke-miterlimit="2" vector-effect="non-scaling-stroke">DIC 2019</text>
<text transform="translate(935.70 1631.74) rotate(-90) scale(0.8606 1)" font-size="26.84" font-weight="bold" fill="#676767" stroke="#676767" stroke-width="0.80" stroke-linejoin="miter" stroke-miterlimit="2" vector-effect="non-scaling-stroke">DIC 2020</text>
<text transform="translate(1053.68 1631.74) rotate(-90) scale(0.8573 1)" font-size="26.84" font-weight="bold" fill="#676767" stroke="#676767" stroke-width="0.80" stroke-linejoin="miter" stroke-miterlimit="2" vector-effect="non-scaling-stroke">DIC 2021</text>
<text transform="translate(1171.66 1631.74) rotate(-90) scale(0.8573 1)" font-size="26.84" font-weight="bold" fill="#676767" stroke="#676767" stroke-width="0.80" stroke-linejoin="miter" stroke-miterlimit="2" vector-effect="non-scaling-stroke">DIC 2022</text>
<text transform="translate(1289.64 1631.74) rotate(-90) scale(0.8573 1)" font-size="26.84" font-weight="bold" fill="#676767" stroke="#676767" stroke-width="0.80" stroke-linejoin="miter" stroke-miterlimit="2" vector-effect="non-scaling-stroke">DIC 2023</text>
<text transform="translate(1407.62 1631.73) rotate(-90) scale(0.8509 1)" font-size="26.84" font-weight="bold" fill="#676767" stroke="#676767" stroke-width="0.80" stroke-linejoin="miter" stroke-miterlimit="2" vector-effect="non-scaling-stroke">DIC 2024</text>
<text transform="translate(261.62 2540.15) scale(0.8810 1)" font-size="31.17" font-weight="bold" fill="#676767" stroke="#676767" stroke-width="0.90" stroke-linejoin="miter" stroke-miterlimit="2" vector-effect="non-scaling-stroke">5,00</text>
<text transform="translate(261.62 2606.15) scale(0.8810 1)" font-size="31.17" font-weight="bold" fill="#676767" stroke="#676767" stroke-width="0.90" stroke-linejoin="miter" stroke-miterlimit="2" vector-effect="non-scaling-stroke">4,50</text>
<text transform="translate(261.62 2672.15) scale(0.8810 1)" font-size="31.17" font-weight="bold" fill="#676767" stroke="#676767" stroke-width="0.90" stroke-linejoin="miter" stroke-miterlimit="2" vector-effect="non-scaling-stroke">4,00</text>
<text transform="translate(261.62 2738.15) scale(0.8810 1)" font-size="31.17" font-weight="bold" fill="#676767" stroke="#676767" stroke-width="0.90" stroke-linejoin="miter" stroke-miterlimit="2" vector-effect="non-scaling-stroke">3,50</text>
<text transform="translate(261.62 2804.15) scale(0.8810 1)" font-size="31.17" font-weight="bold" fill="#676767" stroke="#676767" stroke-width="0.90" stroke-linejoin="miter" stroke-miterlimit="2" vector-effect="non-scaling-stroke">3,00</text>
<text transform="translate(261.62 2870.15) scale(0.8810 1)" font-size="31.17" font-weight="bold" fill="#676767" stroke="#676767" stroke-width="0.90" stroke-linejoin="miter" stroke-miterlimit="2" vector-effect="non-scaling-stroke">2,50</text>
<text transform="translate(261.62 2936.15) scale(0.8810 1)" font-size="31.17" font-weight="bold" fill="#676767" stroke="#676767" stroke-width="0.90" stroke-linejoin="miter" stroke-miterlimit="2" vector-effect="non-scaling-stroke">2,00</text>
<text transform="translate(261.62 3002.15) scale(0.8810 1)" font-size="31.17" font-weight="bold" fill="#676767" stroke="#676767" stroke-width="0.90" stroke-linejoin="miter" stroke-miterlimit="2" vector-effect="non-scaling-stroke">1,50</text>
<text transform="translate(261.62 3068.15) scale(0.8810 1)" font-size="31.17" font-weight="bold" fill="#676767" stroke="#676767" stroke-width="0.90" stroke-linejoin="miter" stroke-miterlimit="2" vector-effect="non-scaling-stroke">1,00</text>
<text transform="translate(261.62 3134.15) scale(0.8810 1)" font-size="31.17" font-weight="bold" fill="#676767" stroke="#676767" stroke-width="0.90" stroke-linejoin="miter" stroke-miterlimit="2" vector-effect="non-scaling-stroke">0,50</text>
<text transform="translate(261.62 3200.15) scale(0.8810 1)" font-size="31.17" font-weight="bold" fill="#676767" stroke="#676767" stroke-width="0.90" stroke-linejoin="miter" stroke-miterlimit="2" vector-effect="non-scaling-stroke">0,00</text>
<text transform="translate(345.80 3314.74) rotate(-90) scale(0.8573 1)" font-size="26.84" font-weight="bold" fill="#676767" stroke="#676767" stroke-width="0.80" stroke-linejoin="miter" stroke-miterlimit="2" vector-effect="non-scaling-stroke">DIC 2015</text>
<text transform="translate(463.78 3314.74) rotate(-90) scale(0.8573 1)" font-size="26.84" font-weight="bold" fill="#676767" stroke="#676767" stroke-width="0.80" stroke-linejoin="miter" stroke-miterlimit="2" vector-effect="non-scaling-stroke">DIC 2016</text>
<text transform="translate(581.76 3314.74) rotate(-90) scale(0.8606 1)" font-size="26.84" font-weight="bold" fill="#676767" stroke="#676767" stroke-width="0.80" stroke-linejoin="miter" stroke-miterlimit="2" vector-effect="non-scaling-stroke">DIC 2017</text>
<text transform="translate(699.74 3314.74) rotate(-90) scale(0.8573 1)" font-size="26.84" font-weight="bold" fill="#676767" stroke="#676767" stroke-width="0.80" stroke-linejoin="miter" stroke-miterlimit="2" vector-effect="non-scaling-stroke">DIC 2018</text>
<text transform="translate(817.72 3314.74) rotate(-90) scale(0.8573 1)" font-size="26.84" font-weight="bold" fill="#676767" stroke="#676767" stroke-width="0.80" stroke-linejoin="miter" stroke-miterlimit="2" vector-effect="non-scaling-stroke">DIC 2019</text>
<text transform="translate(935.70 3314.74) rotate(-90) scale(0.8606 1)" font-size="26.84" font-weight="bold" fill="#676767" stroke="#676767" stroke-width="0.80" stroke-linejoin="miter" stroke-miterlimit="2" vector-effect="non-scaling-stroke">DIC 2020</text>
<text transform="translate(1053.68 3314.74) rotate(-90) scale(0.8573 1)" font-size="26.84" font-weight="bold" fill="#676767" stroke="#676767" stroke-width="0.80" stroke-linejoin="miter" stroke-miterlimit="2" vector-effect="non-scaling-stroke">DIC 2021</text>
<text transform="translate(1171.66 3314.74) rotate(-90) scale(0.8573 1)" font-size="26.84" font-weight="bold" fill="#676767" stroke="#676767" stroke-width="0.80" stroke-linejoin="miter" stroke-miterlimit="2" vector-effect="non-scaling-stroke">DIC 2022</text>
<text transform="translate(1289.64 3314.74) rotate(-90) scale(0.8573 1)" font-size="26.84" font-weight="bold" fill="#676767" stroke="#676767" stroke-width="0.80" stroke-linejoin="miter" stroke-miterlimit="2" vector-effect="non-scaling-stroke">DIC 2023</text>
<text transform="translate(1407.62 3314.73) rotate(-90) scale(0.8509 1)" font-size="26.84" font-weight="bold" fill="#676767" stroke="#676767" stroke-width="0.80" stroke-linejoin="miter" stroke-miterlimit="2" vector-effect="non-scaling-stroke">DIC 2024</text>
<rect x="130.00" y="3402" width="51.75" height="14.5" fill="#1e88e5"/>
<rect x="487.50" y="3402" width="51.00" height="14.5" fill="#d32f2f"/>
<rect x="844.00" y="3402" width="51.00" height="14.5" fill="#424242"/>
<rect x="1201.00" y="3402" width="51.00" height="14.5" fill="#4caf50"/>
<rect x="1560.00" y="3402" width="50.50" height="14.5" fill="#ff9800"/>
<rect x="0" y="3522.5" width="1920" height="88" fill="#dfa67c"/>
<rect x="0" y="3610.5" width="1920" height="94.5" fill="#000000"/>
<g filter="url(#hd2)"><text transform="translate(190.26 363.55) scale(0.7373 1)" font-size="134.34" font-weight="bold" fill="#2e2e2e" stroke="#2e2e2e" stroke-width="0.90" stroke-linejoin="miter" stroke-miterlimit="2" vector-effect="non-scaling-stroke">EVOLUCIÓN</text></g>
<g filter="url(#hd2)"><text transform="translate(809.13 363.55) scale(0.7530 1)" font-size="134.34" font-weight="bold" fill="#2e2e2e" stroke="#2e2e2e" stroke-width="0.90" stroke-linejoin="miter" stroke-miterlimit="2" vector-effect="non-scaling-stroke">MENSUAL</text></g>
<g filter="url(#hd2)"><text transform="translate(1340.15 363.55) scale(0.6903 1)" font-size="134.34" font-weight="bold" fill="#2e2e2e" stroke="#2e2e2e" stroke-width="0.90" stroke-linejoin="miter" stroke-miterlimit="2" vector-effect="non-scaling-stroke">DEL</text></g>
<g filter="url(#hd2)"><text transform="translate(1557.35 363.55) scale(0.7263 1)" font-size="134.34" font-weight="bold" fill="#2e2e2e" stroke="#2e2e2e" stroke-width="0.90" stroke-linejoin="miter" stroke-miterlimit="2" vector-effect="non-scaling-stroke">ICG</text></g>
<g filter="url(#hd1)"><text transform="translate(534.70 510.85) scale(0.7602 1)" font-size="76.77" font-weight="bold" fill="#ffffff" stroke="#ffffff" stroke-width="0.30" stroke-linejoin="miter" stroke-miterlimit="2" vector-effect="non-scaling-stroke">DICIEMBRE</text></g>
<g filter="url(#hd1)"><text transform="translate(878.13 510.85) scale(0.8434 1)" font-size="76.77" font-weight="bold" fill="#ffffff" stroke="#ffffff" stroke-width="0.30" stroke-linejoin="miter" stroke-miterlimit="2" vector-effect="non-scaling-stroke">2015</text></g>
<g filter="url(#hd1)"><text transform="translate(1040.77 510.85) scale(0.8680 1)" font-size="76.77" font-weight="bold" fill="#ffffff" stroke="#ffffff" stroke-width="0.30" stroke-linejoin="miter" stroke-miterlimit="2" vector-effect="non-scaling-stroke">-</text></g>
<g filter="url(#hd1)"><text transform="translate(1083.46 510.85) scale(0.7278 1)" font-size="76.77" font-weight="bold" fill="#ffffff" stroke="#ffffff" stroke-width="0.30" stroke-linejoin="miter" stroke-miterlimit="2" vector-effect="non-scaling-stroke">PRESENTE</text></g>
<text transform="translate(511.75 918.12) scale(0.8307 1)" font-size="25.76" font-weight="normal" fill="#676767" stroke="#676767" stroke-width="0.35" stroke-linejoin="miter" stroke-miterlimit="2" vector-effect="non-scaling-stroke">PROMEDIO</text>
<text transform="translate(1015.25 918.12) scale(0.8307 1)" font-size="25.76" font-weight="normal" fill="#676767" stroke="#676767" stroke-width="0.35" stroke-linejoin="miter" stroke-miterlimit="2" vector-effect="non-scaling-stroke">PROMEDIO</text>
<text transform="translate(1423.01 918.12) scale(0.8271 1)" font-size="25.76" font-weight="normal" fill="#676767" stroke="#676767" stroke-width="0.35" stroke-linejoin="miter" stroke-miterlimit="2" vector-effect="non-scaling-stroke">PROMEDIO</text>
<text transform="translate(504.05 947.68) scale(0.9027 1)" font-size="31.53" font-weight="bold" fill="#676767" stroke="#676767" stroke-width="0.65" stroke-linejoin="miter" stroke-miterlimit="2" vector-effect="non-scaling-stroke">M. MACRI</text>
<text transform="translate(974.91 947.68) scale(0.8445 1)" font-size="31.53" font-weight="bold" fill="#676767" stroke="#676767" stroke-width="0.65" stroke-linejoin="miter" stroke-miterlimit="2" vector-effect="non-scaling-stroke">A. FERNÁNDEZ</text>
<text transform="translate(1432.32 947.68) scale(0.8972 1)" font-size="31.53" font-weight="bold" fill="#676767" stroke="#676767" stroke-width="0.65" stroke-linejoin="miter" stroke-miterlimit="2" vector-effect="non-scaling-stroke">J.MILEI</text>
<text transform="translate(506.32 1066.15) scale(0.8839 1)" font-size="73.67" font-weight="bold" fill="#ec8623" stroke="#ec8623" stroke-width="0.20" stroke-linejoin="miter" stroke-miterlimit="2" vector-effect="non-scaling-stroke">2,27</text>
<text transform="translate(1010.56 1066.15) scale(0.8785 1)" font-size="73.67" font-weight="bold" fill="#ec8623" stroke="#ec8623" stroke-width="0.20" stroke-linejoin="miter" stroke-miterlimit="2" vector-effect="non-scaling-stroke">1,69</text>
<text transform="translate(1417.60 1066.15) scale(0.8676 1)" font-size="73.67" font-weight="bold" fill="#ec8623" stroke="#ec8623" stroke-width="0.20" stroke-linejoin="miter" stroke-miterlimit="2" vector-effect="non-scaling-stroke">2,44</text>
<g filter="url(#hd2)"><text transform="translate(208.77 1966.05) scale(0.7360 1)" font-size="134.34" font-weight="bold" fill="#2e2e2e" stroke="#2e2e2e" stroke-width="0.90" stroke-linejoin="miter" stroke-miterlimit="2" vector-effect="non-scaling-stroke">EVOLUCIÓN</text></g>
<g filter="url(#hd2)"><text transform="translate(827.12 1966.05) scale(0.7537 1)" font-size="134.34" font-weight="bold" fill="#2e2e2e" stroke="#2e2e2e" stroke-width="0.90" stroke-linejoin="miter" stroke-miterlimit="2" vector-effect="non-scaling-stroke">MENSUAL</text></g>
<g filter="url(#hd2)"><text transform="translate(1359.23 1966.05) scale(0.6818 1)" font-size="134.34" font-weight="bold" fill="#2e2e2e" stroke="#2e2e2e" stroke-width="0.90" stroke-linejoin="miter" stroke-miterlimit="2" vector-effect="non-scaling-stroke">DE</text></g>
<g filter="url(#hd2)"><text transform="translate(1516.57 1966.05) scale(0.7005 1)" font-size="134.34" font-weight="bold" fill="#2e2e2e" stroke="#2e2e2e" stroke-width="0.90" stroke-linejoin="miter" stroke-miterlimit="2" vector-effect="non-scaling-stroke">LOS</text></g>
<g filter="url(#hd2)"><text transform="translate(336.78 2095.05) scale(0.7539 1)" font-size="134.34" font-weight="bold" fill="#2e2e2e" stroke="#2e2e2e" stroke-width="0.90" stroke-linejoin="miter" stroke-miterlimit="2" vector-effect="non-scaling-stroke">COMPONENTES</text></g>
<g filter="url(#hd2)"><text transform="translate(1162.67 2095.05) scale(0.6884 1)" font-size="134.34" font-weight="bold" fill="#2e2e2e" stroke="#2e2e2e" stroke-width="0.90" stroke-linejoin="miter" stroke-miterlimit="2" vector-effect="non-scaling-stroke">DEL</text></g>
<g filter="url(#hd2)"><text transform="translate(1380.34 2095.05) scale(0.7276 1)" font-size="134.34" font-weight="bold" fill="#2e2e2e" stroke="#2e2e2e" stroke-width="0.90" stroke-linejoin="miter" stroke-miterlimit="2" vector-effect="non-scaling-stroke">ICG:</text></g>
<g filter="url(#hd1)"><text transform="translate(534.70 2224.35) scale(0.7602 1)" font-size="76.77" font-weight="bold" fill="#ffffff" stroke="#ffffff" stroke-width="0.30" stroke-linejoin="miter" stroke-miterlimit="2" vector-effect="non-scaling-stroke">DICIEMBRE</text></g>
<g filter="url(#hd1)"><text transform="translate(878.13 2224.35) scale(0.8434 1)" font-size="76.77" font-weight="bold" fill="#ffffff" stroke="#ffffff" stroke-width="0.30" stroke-linejoin="miter" stroke-miterlimit="2" vector-effect="non-scaling-stroke">2015</text></g>
<g filter="url(#hd1)"><text transform="translate(1040.77 2224.35) scale(0.8680 1)" font-size="76.77" font-weight="bold" fill="#ffffff" stroke="#ffffff" stroke-width="0.30" stroke-linejoin="miter" stroke-miterlimit="2" vector-effect="non-scaling-stroke">-</text></g>
<g filter="url(#hd1)"><text transform="translate(1083.46 2224.35) scale(0.7278 1)" font-size="76.77" font-weight="bold" fill="#ffffff" stroke="#ffffff" stroke-width="0.30" stroke-linejoin="miter" stroke-miterlimit="2" vector-effect="non-scaling-stroke">PRESENTE</text></g>
<text transform="translate(485.64 2662.09) scale(0.9154 1)" font-size="39.59" font-weight="bold" fill="#676767" stroke="#676767" stroke-width="0.82" stroke-linejoin="miter" stroke-miterlimit="2" vector-effect="non-scaling-stroke">M. MACRI</text>
<text transform="translate(947.88 2662.09) scale(0.8561 1)" font-size="39.59" font-weight="bold" fill="#676767" stroke="#676767" stroke-width="0.82" stroke-linejoin="miter" stroke-miterlimit="2" vector-effect="non-scaling-stroke">A. FERNÁNDEZ</text>
<text transform="translate(1418.41 2662.09) scale(0.9134 1)" font-size="39.59" font-weight="bold" fill="#676767" stroke="#676767" stroke-width="0.82" stroke-linejoin="miter" stroke-miterlimit="2" vector-effect="non-scaling-stroke">J.MILEI</text>
<text transform="translate(194.30 3418.60) scale(0.9377 1)" font-size="29.15" font-weight="bold" fill="#000000" stroke="#000000" stroke-width="0.30" stroke-linejoin="miter" stroke-miterlimit="2" vector-effect="non-scaling-stroke">GOBIERNO</text>
<text transform="translate(550.90 3418.60) scale(0.9593 1)" font-size="29.15" font-weight="bold" fill="#000000" stroke="#000000" stroke-width="0.30" stroke-linejoin="miter" stroke-miterlimit="2" vector-effect="non-scaling-stroke">INTERÉS</text>
<text transform="translate(907.38 3418.60) scale(0.9717 1)" font-size="29.15" font-weight="bold" fill="#000000" stroke="#000000" stroke-width="0.30" stroke-linejoin="miter" stroke-miterlimit="2" vector-effect="non-scaling-stroke">EFICIENCIA</text>
<text transform="translate(1264.37 3418.60) scale(0.9754 1)" font-size="29.15" font-weight="bold" fill="#000000" stroke="#000000" stroke-width="0.30" stroke-linejoin="miter" stroke-miterlimit="2" vector-effect="non-scaling-stroke">HONESTIDAD</text>
<text transform="translate(1621.77 3418.60) scale(0.9642 1)" font-size="29.15" font-weight="bold" fill="#000000" stroke="#000000" stroke-width="0.30" stroke-linejoin="miter" stroke-miterlimit="2" vector-effect="non-scaling-stroke">CAPACIDAD</text>
<text transform="translate(613.25 3576.75) scale(0.9779 1)" font-size="32.11" font-weight="normal" fill="#3b3f4c">FUENTE: UNIVERSIDAD TORCUATO DI TELLA.</text>
<text transform="translate(857.19 3673.00) scale(0.8859 1)" font-size="64.36" font-weight="bold" fill="#ffffff" stroke="#000000" stroke-width="1.00" stroke-linejoin="miter" stroke-miterlimit="2" vector-effect="non-scaling-stroke">infobae</text>
</svg>
</body></html>
